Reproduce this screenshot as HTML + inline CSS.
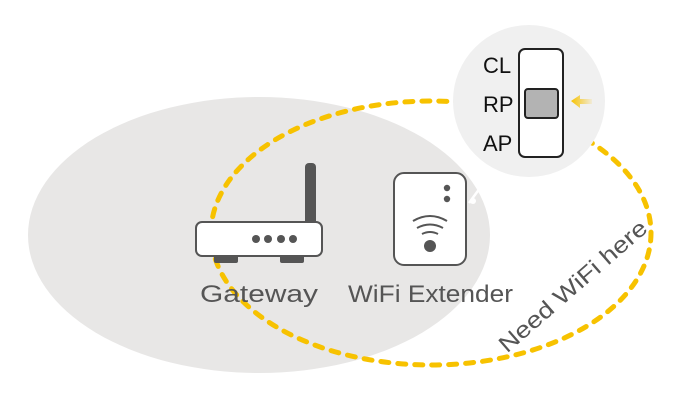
<!DOCTYPE html>
<html><head><style>
html,body{margin:0;padding:0;background:#fff;width:678px;height:400px;overflow:hidden}
</style></head><body>
<svg width="678" height="400" viewBox="0 0 678 400" xmlns="http://www.w3.org/2000/svg" font-family="'Liberation Sans', sans-serif">
<defs>
<linearGradient id="ag" x1="0" x2="1"><stop offset="0" stop-color="#f7c200"/><stop offset="1" stop-color="#f7c200" stop-opacity="0.1"/></linearGradient>
</defs>
<ellipse cx="259" cy="235" rx="231" ry="138" fill="#e8e7e6"/>
<ellipse cx="431" cy="233" rx="220" ry="132" fill="none" stroke="#f7c200" stroke-width="5" stroke-dasharray="8 9" stroke-linecap="round"/>
<!-- router -->
<rect x="305" y="163" width="11" height="62" rx="4" fill="#555"/>
<rect x="214" y="254" width="24" height="9" rx="2" fill="#555"/>
<rect x="280" y="254" width="24" height="9" rx="2" fill="#555"/>
<rect x="196" y="222" width="126" height="34" rx="6" fill="#fff" stroke="#555" stroke-width="2"/>
<circle cx="256" cy="239" r="4" fill="#555"/><circle cx="268" cy="239" r="4" fill="#555"/><circle cx="281" cy="239" r="4" fill="#555"/><circle cx="293" cy="239" r="4" fill="#555"/>
<!-- extender -->
<line x1="469" y1="203" x2="480" y2="188" stroke="#fff" stroke-width="2.5"/>
<circle cx="473" cy="201" r="3" fill="#fff"/>
<rect x="394" y="173" width="72" height="92" rx="10" fill="#fff" stroke="#555" stroke-width="2"/>
<circle cx="447" cy="188" r="3.2" fill="#555"/><circle cx="447" cy="199" r="3.2" fill="#555"/>
<path d="M413 221 Q430 211 447 221" fill="none" stroke="#555" stroke-width="2"/>
<path d="M417 228 Q430 221 443 228" fill="none" stroke="#555" stroke-width="2"/>
<path d="M422 234 Q430 230 438 234" fill="none" stroke="#555" stroke-width="2"/>
<circle cx="430" cy="246" r="6" fill="#555"/>
<text x="200" y="302" font-size="24" fill="#555" textLength="118" lengthAdjust="spacingAndGlyphs">Gateway</text>
<text x="348" y="302" font-size="24" fill="#555" textLength="165" lengthAdjust="spacingAndGlyphs">WiFi Extender</text>
<!-- magnifier -->
<circle cx="529" cy="101" r="76" fill="#f0f0f0"/>
<rect x="519" y="49" width="44" height="108" rx="6" fill="#fff" stroke="#222" stroke-width="2"/>
<rect x="525" y="89" width="33" height="29" rx="3" fill="#b3b3b3" stroke="#222" stroke-width="2"/>
<text x="483" y="73" font-size="22" fill="#111">CL</text>
<text x="483" y="112" font-size="22" fill="#111">RP</text>
<text x="483" y="151" font-size="22" fill="#111">AP</text>
<path d="M571 101 L580 95 L580 99 L592 99 L592 104 L580 104 L580 108 Z" fill="url(#ag)"/>
<text x="0" y="0" font-size="23" fill="#555" text-anchor="middle" textLength="188" lengthAdjust="spacingAndGlyphs" transform="translate(578 292) rotate(-41)">Need WiFi here</text>
</svg>
</body></html>
